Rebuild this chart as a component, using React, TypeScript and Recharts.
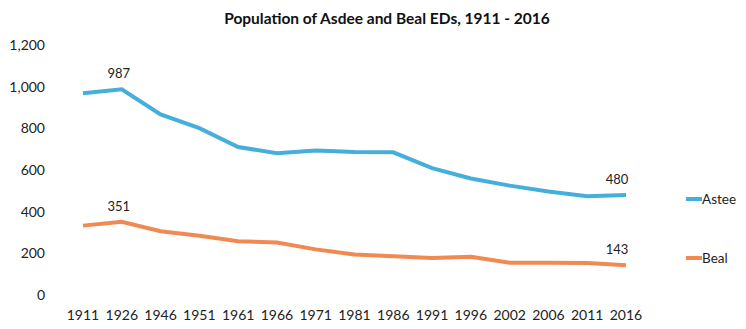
import React from 'react';
import { LineChart, Line, XAxis, YAxis, Legend } from 'recharts';

// Census years and population of the two electoral divisions
const years = ['1911', '1926', '1946', '1951', '1961', '1966', '1971', '1981', '1986', '1991', '1996', '2002', '2006', '2011', '2016'];
const asteeValues = [968, 987, 867, 801, 710, 681, 694, 686, 685, 609, 559, 525, 497, 474, 480];
const bealValues = [333, 351, 306, 284, 258, 252, 219, 194, 186, 178, 184, 155, 155, 154, 143];
const yTicks = [0, 200, 400, 600, 800, 1000, 1200];
// Points that carry a value label
const labelledIndices = [1, 14];

const data = years.map((year, i) => ({ year, Astee: asteeValues[i], Beal: bealValues[i] }));

const FONT = 'Lato, "Open Sans", sans-serif';
const BLUE = '#45afdb';
const ORANGE = '#ef8a52';

const ValueLabel = (props: any) => {
  const { x, y, value, index } = props;
  if (!labelledIndices.includes(index)) return null;
  const dx = index === years.length - 1 ? -9 : -3;
  return (
    <text x={x + dx} y={y - 11} textAnchor="middle" fontSize={13} fill="#222" fontFamily={FONT}>
      {value}
    </text>
  );
};

const SideLegend = (props: any) => {
  const { payload } = props;
  return (
    <div style={{ fontFamily: FONT, fontSize: 13.5, color: '#222', whiteSpace: 'nowrap' }}>
      {(payload || []).map((item: any, i: number) => (
        <div
          key={item.value}
          style={{ display: 'flex', alignItems: 'center', height: 20, marginBottom: i === 0 ? 39 : 0 }}
        >
          <span style={{ display: 'inline-block', flexShrink: 0, width: 16, height: 4, background: item.color }} />
          <span style={{ flexShrink: 0 }}>{item.value}</span>
        </div>
      ))}
    </div>
  );
};

export default function App() {
  return (
    <div style={{ position: 'relative', margin: -8, width: 746, height: 329, background: '#fff' }}>
      <div
        style={{
          position: 'absolute',
          top: 8,
          left: 387,
          transform: 'translateX(-50%)',
          whiteSpace: 'nowrap',
          fontFamily: FONT,
          fontWeight: 700,
          fontSize: 15.5,
          lineHeight: '20px',
          color: '#111',
          zIndex: 2,
        }}
      >
        Population of Asdee and Beal EDs, 1911 - 2016
      </div>
      <LineChart
        width={746}
        height={329}
        data={data}
        margin={{ top: 45, right: 68, left: 23, bottom: 4 }}
      >
        <XAxis
          dataKey="year"
          axisLine={false}
          tickLine={false}
          tickSize={0}
          tickMargin={15}
          height={30}
          interval={0}
          tick={{ fontSize: 14, fill: '#222', fontFamily: FONT }}
        />
        <YAxis
          domain={[0, 1200]}
          ticks={yTicks}
          axisLine={false}
          tickLine={false}
          tickSize={0}
          tickMargin={38}
          width={60}
          tickFormatter={(v: number) => v.toLocaleString('en-US')}
          tick={{ fontSize: 14, fill: '#222', fontFamily: FONT }}
        />
        <Legend
          layout="horizontal"
          verticalAlign="middle"
          align="right"
          content={<SideLegend />}
          wrapperStyle={{ top: 189, left: 686, width: 52 }}
        />
        <Line
          type="linear"
          dataKey="Astee"
          stroke={BLUE}
          strokeWidth={4}
          dot={false}
          isAnimationActive={false}
          label={<ValueLabel />}
        />
        <Line
          type="linear"
          dataKey="Beal"
          stroke={ORANGE}
          strokeWidth={4}
          dot={false}
          isAnimationActive={false}
          label={<ValueLabel />}
        />
      </LineChart>
    </div>
  );
}
